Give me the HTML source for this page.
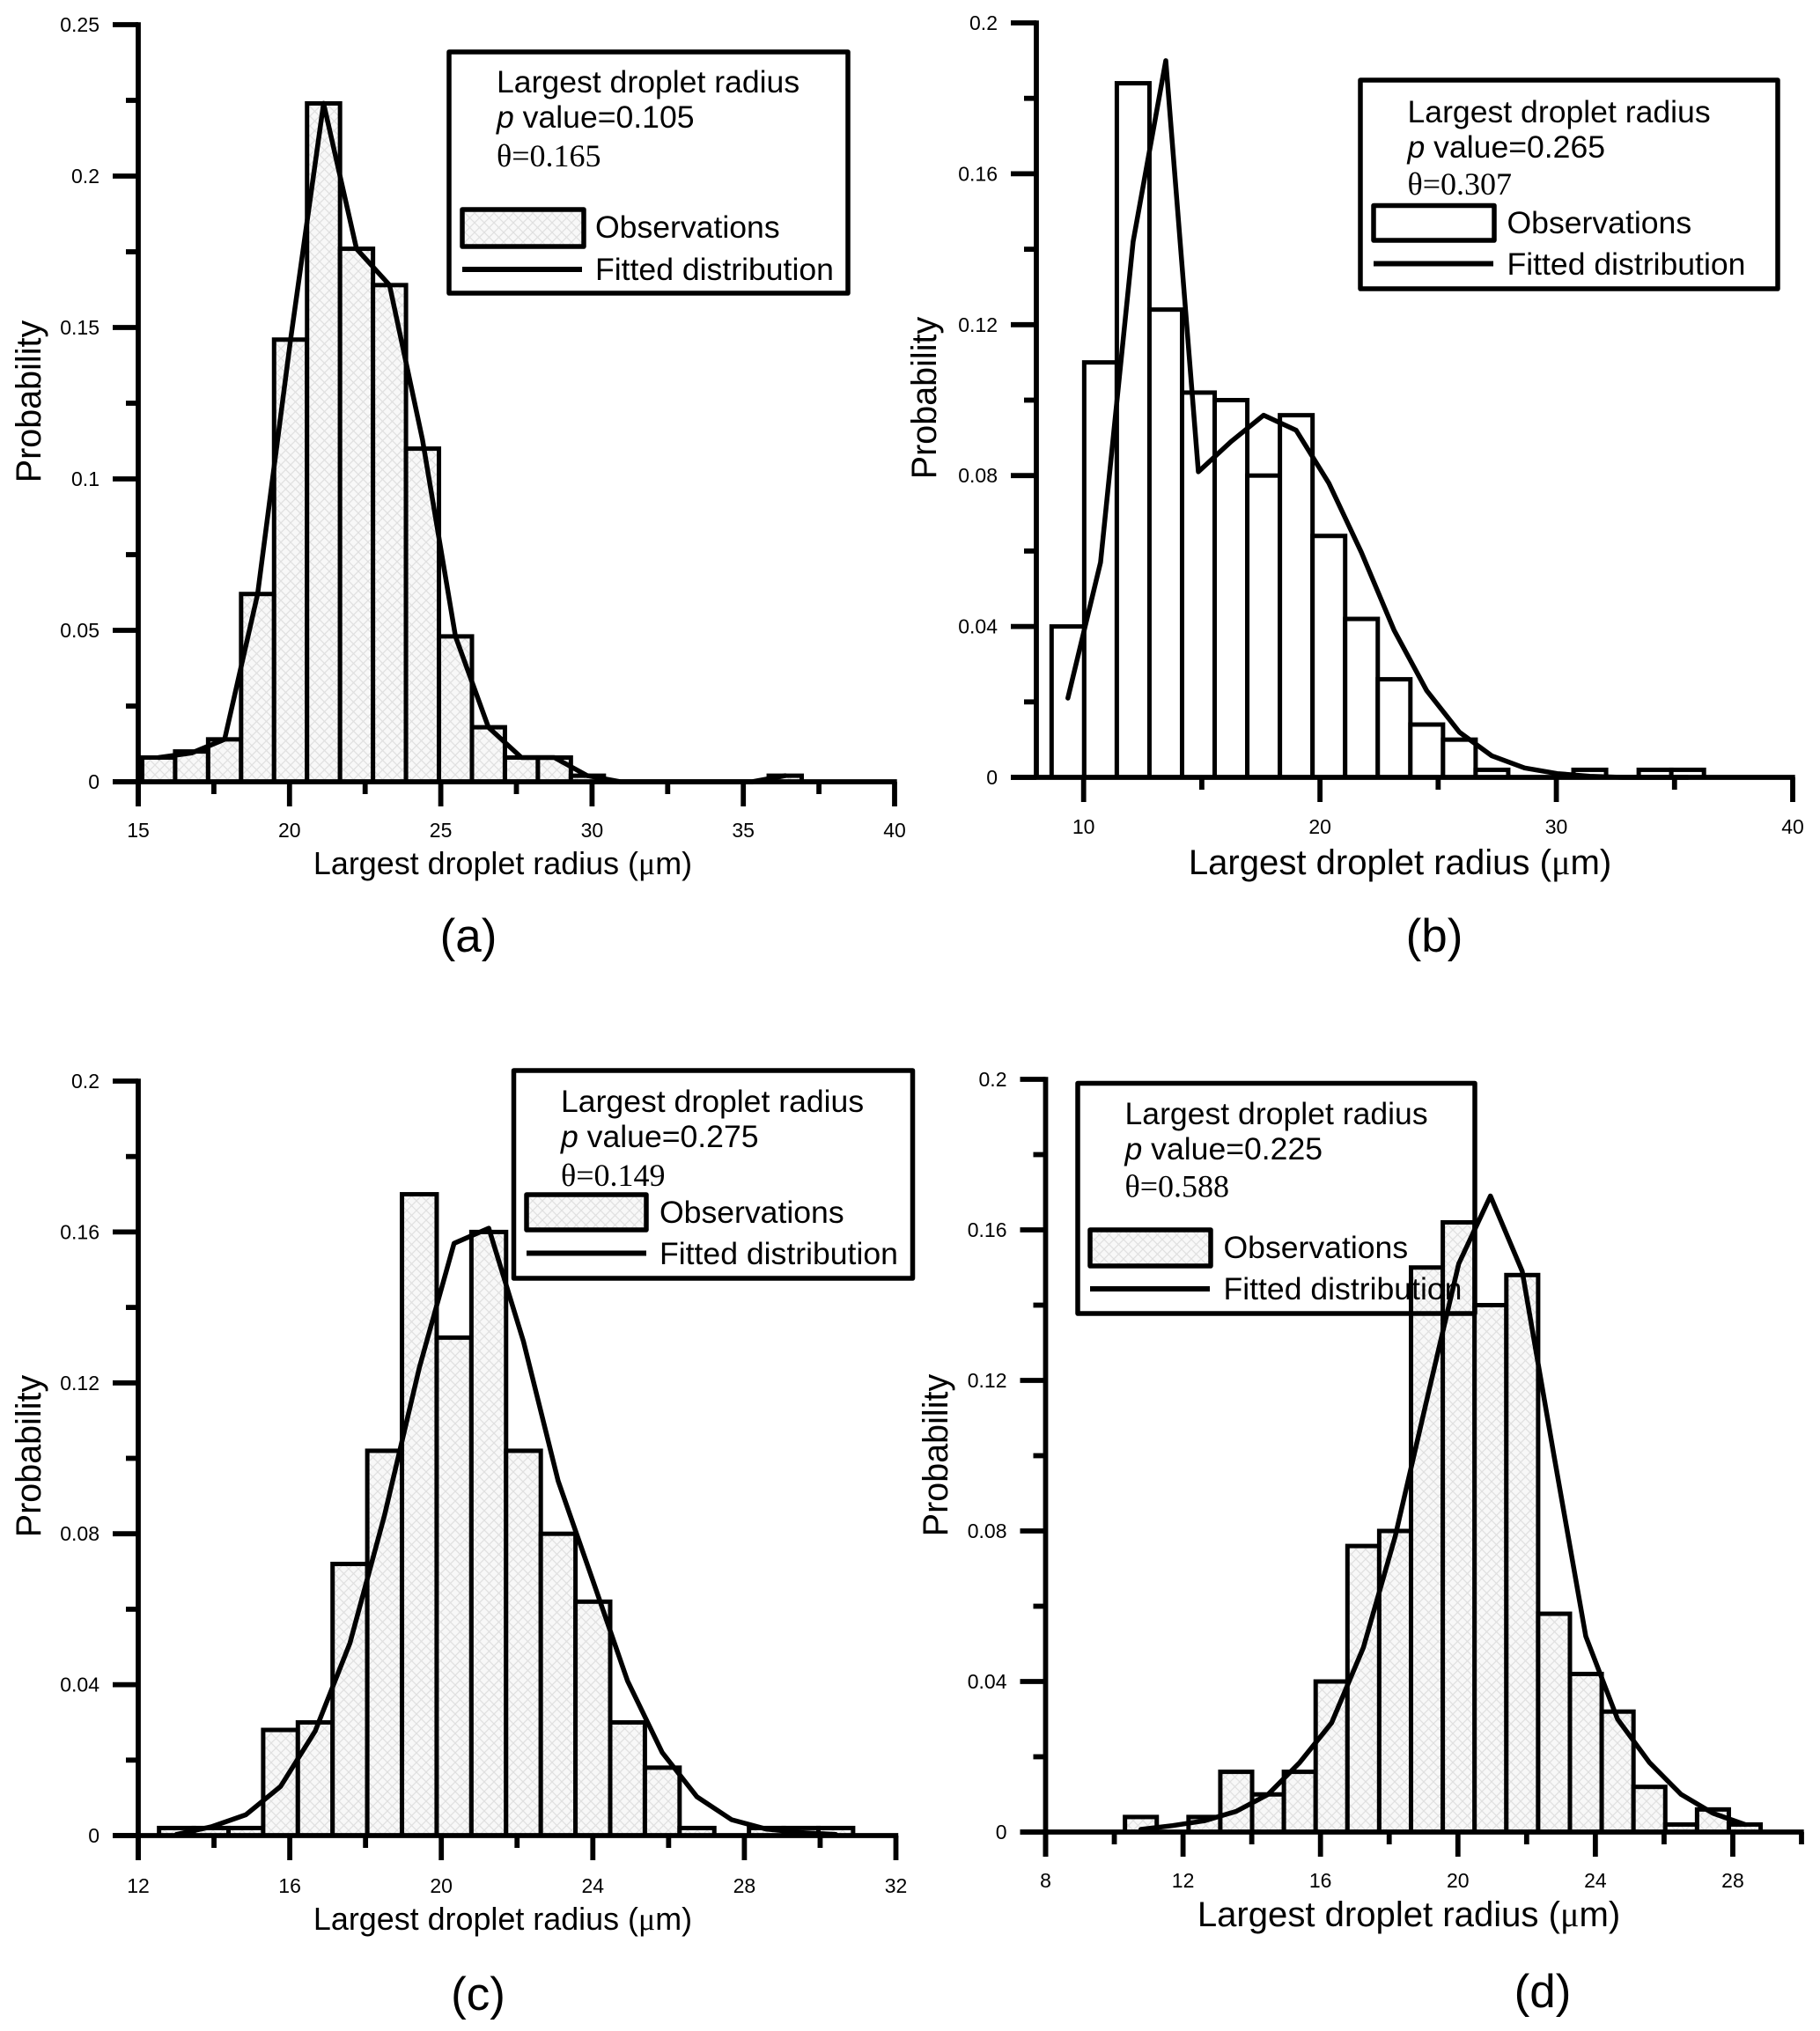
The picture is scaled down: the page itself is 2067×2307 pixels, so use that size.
<!DOCTYPE html>
<html lang="en">
<head>
<meta charset="utf-8">
<title>Largest droplet radius distributions</title>
<style>
html,body{margin:0;padding:0;background:#fff;width:2067px;height:2307px;overflow:hidden}
svg{display:block}
text{font-family:"Liberation Sans",sans-serif;fill:#000}
.tick{font-size:23px}
.title{font-size:35.9px}
.titleb{font-size:40.1px}
.ytitle{font-size:39.5px}
.panel{font-size:53px}
.leg{font-size:35.6px}
.ser{font-family:"Liberation Serif",serif;font-size:36px}
.mu{font-family:"Liberation Serif",serif}
.bx{fill:none;stroke:#000;stroke-width:5.5;stroke-linejoin:round}
.sw{stroke:#000;stroke-width:5.5;stroke-linejoin:round}
.ln{stroke:#000;stroke-width:6}
</style>
</head>
<body>
<svg xmlns="http://www.w3.org/2000/svg" width="2067" height="2307" viewBox="0 0 2067 2307">
<defs>
<pattern id="hatch" width="11" height="11" patternUnits="userSpaceOnUse">
<rect width="11" height="11" fill="#f8f8f8"/>
<path d="M0 0L11 11M11 0L0 11" stroke="#e0e0e0" stroke-width="1.2"/>
</pattern>
</defs>
<rect width="2067" height="2307" fill="#fff"/>

<g>
<g id="bars-a"></g>
<g>
<rect class="bx" x="510" y="59" width="453" height="274"/>
<text class="leg" x="564" y="105">Largest droplet radius</text>
<text class="leg" x="564" y="145"><tspan font-style="italic">p</tspan> value=0.105</text>
<text class="ser" x="564" y="189">θ=0.165</text>
<rect class="sw" x="525" y="238" width="138" height="42" fill="url(#hatch)"/>
<text class="leg" x="676" y="270">Observations</text>
<line class="ln" x1="525" y1="306" x2="661" y2="306"/>
<text class="leg" x="676" y="318">Fitted distribution</text>
</g>
<g id="fit-a"></g>
<g id="axes-a"></g>
<text class="ytitle" transform="translate(46,456) rotate(-90)" text-anchor="middle">Probability</text>
<text class="title" x="571" y="993" text-anchor="middle">Largest droplet radius (<tspan class="mu">μ</tspan>m)</text>
<text class="panel" x="532" y="1081" text-anchor="middle">(a)</text>
</g>

<g>
<g id="bars-b"></g>
<g>
<rect class="bx" x="1545" y="91" width="474" height="237"/>
<text class="leg" x="1598.5" y="139">Largest droplet radius</text>
<text class="leg" x="1598.5" y="179"><tspan font-style="italic">p</tspan> value=0.265</text>
<text class="ser" x="1598.5" y="221">θ=0.307</text>
<rect class="sw" x="1560" y="233.5" width="137" height="39.5" fill="#fff"/>
<text class="leg" x="1711.5" y="265">Observations</text>
<line class="ln" x1="1560" y1="299.5" x2="1696" y2="299.5"/>
<text class="leg" x="1711.5" y="312">Fitted distribution</text>
</g>
<g id="fit-b"></g>
<g id="axes-b"></g>
<text class="ytitle" transform="translate(1063,452) rotate(-90)" text-anchor="middle">Probability</text>
<text class="titleb" x="1590" y="993" text-anchor="middle">Largest droplet radius (<tspan class="mu">μ</tspan>m)</text>
<text class="panel" x="1629" y="1081" text-anchor="middle">(b)</text>
</g>

<g>
<g id="bars-c"></g>
<g>
<rect class="bx" x="583.5" y="1216" width="453" height="236"/>
<text class="leg" x="637" y="1263">Largest droplet radius</text>
<text class="leg" x="637" y="1303"><tspan font-style="italic">p</tspan> value=0.275</text>
<text class="ser" x="637" y="1347">θ=0.149</text>
<rect class="sw" x="598" y="1357" width="136" height="40" fill="url(#hatch)"/>
<text class="leg" x="749" y="1389">Observations</text>
<line class="ln" x1="598" y1="1423.5" x2="734" y2="1423.5"/>
<text class="leg" x="749" y="1436">Fitted distribution</text>
</g>
<g id="fit-c"></g>
<g id="axes-c"></g>
<text class="ytitle" transform="translate(46,1654) rotate(-90)" text-anchor="middle">Probability</text>
<text class="title" x="571" y="2192" text-anchor="middle">Largest droplet radius (<tspan class="mu">μ</tspan>m)</text>
<text class="panel" x="543" y="2283" text-anchor="middle">(c)</text>
</g>

<g>
<g id="bars-d"></g>
<g>
<rect class="bx" x="1224" y="1230.5" width="451" height="261.5"/>
<text class="leg" x="1277.5" y="1277">Largest droplet radius</text>
<text class="leg" x="1277.5" y="1317"><tspan font-style="italic">p</tspan> value=0.225</text>
<text class="ser" x="1277.5" y="1359.5">θ=0.588</text>
<rect class="sw" x="1238" y="1397" width="137" height="41" fill="url(#hatch)"/>
<text class="leg" x="1389.5" y="1429">Observations</text>
<line class="ln" x1="1238" y1="1464" x2="1374" y2="1464"/>
<text class="leg" x="1389.5" y="1476">Fitted distribution</text>
</g>
<g id="fit-d"></g>
<g id="axes-d"></g>
<text class="ytitle" transform="translate(1076,1653) rotate(-90)" text-anchor="middle">Probability</text>
<text class="titleb" x="1600" y="2188" text-anchor="middle">Largest droplet radius (<tspan class="mu">μ</tspan>m)</text>
<text class="panel" x="1752" y="2280" text-anchor="middle">(d)</text>
</g>
</svg>

<script>
// Panel (a)
const aObserved = [0.008,0.01,0.014,0.062,0.146,0.224,0.176,0.164,0.11,0.048,0.018,0.008,0.008,0.002,0,0,0,0,0,0.002];
const aFitted   = [0.008,0.0095,0.014,0.062,0.146,0.224,0.176,0.164,0.113,0.048,0.018,0.008,0.008,0.002,0,0,0,0,0,0.002];
const aXTicks = [15,20,25,30,35,40];
const aXTickLabels = ['15','20','25','30','35','40'];
const aXMinor = [17.5,22.5,27.5,32.5,37.5];
const aYTicks = [0,0.05,0.1,0.15,0.2,0.25];
const aYTickLabels = ['0','0.05','0.1','0.15','0.2','0.25'];
const aYMinor = [0.025,0.075,0.125,0.175,0.225];

// Panel (b)
const bObserved = [0.04,0.11,0.184,0.124,0.102,0.1,0.08,0.096,0.064,0.042,0.026,0.014,0.01,0.002,0,0,0.002,0,0.002,0.002];
const bFitted   = [0.021,0.057,0.142,0.19,0.081,0.089,0.096,0.092,0.078,0.0596,0.039,0.023,0.012,0.0057,0.0025,0.001,0.0003,0,0,0];
const bXTicks = [10,20,30,40];
const bXTickLabels = ['10','20','30','40'];
const bXMinor = [15,25,35];
const bYTicks = [0,0.04,0.08,0.12,0.16,0.2];
const bYTickLabels = ['0','0.04','0.08','0.12','0.16','0.2'];
const bYMinor = [0.02,0.06,0.1,0.14,0.18];

// Panel (c)
const cObserved = [0.002,0.002,0.002,0.028,0.03,0.072,0.102,0.17,0.132,0.16,0.102,0.08,0.062,0.03,0.018,0.002,0,0.002,0.002,0.002];
const cFitted   = [0.0003,0.0023,0.0055,0.013,0.0277,0.051,0.085,0.124,0.157,0.161,0.131,0.094,0.0676,0.041,0.022,0.0103,0.0042,0.0017,0.0008,0.0003];
const cXTicks = [12,16,20,24,28,32];
const cXTickLabels = ['12','16','20','24','28','32'];
const cXMinor = [14,18,22,26,30];
const cYTicks = [0,0.04,0.08,0.12,0.16,0.2];
const cYTickLabels = ['0','0.04','0.08','0.12','0.16','0.2'];
const cYMinor = [0.02,0.06,0.1,0.14,0.18];

// Panel (d)
const dObserved = [0.004,0,0.004,0.016,0.01,0.016,0.04,0.076,0.08,0.15,0.162,0.14,0.148,0.058,0.042,0.032,0.012,0.002,0.006,0.002];
const dFitted   = [0.0007,0.0017,0.003,0.0055,0.01,0.0185,0.029,0.049,0.0785,0.115,0.151,0.169,0.149,0.1,0.052,0.03,0.0185,0.01,0.005,0.002];
const dXTicks = [8,12,16,20,24,28];
const dXTickLabels = ['8','12','16','20','24','28'];
const dXMinor = [10,14,18,22,26,30];
const dYTicks = [0,0.04,0.08,0.12,0.16,0.2];
const dYTickLabels = ['0','0.04','0.08','0.12','0.16','0.2'];
const dYMinor = [0.02,0.06,0.1,0.14,0.18];

const NS = 'http://www.w3.org/2000/svg';

function drawLine(parent, x1, y1, x2, y2, name) {
  const el = document.createElementNS(NS, 'line');
  el.setAttribute('x1', x1);
  el.setAttribute('y1', y1);
  el.setAttribute('x2', x2);
  el.setAttribute('y2', y2);
  el.setAttribute('stroke', '#000');
  el.setAttribute('stroke-width', '5.8');
  
  
  parent.appendChild(el);
}

function drawLabel(parent, x, y, anchor, str, name) {
  const el = document.createElementNS(NS, 'text');
  el.setAttribute('x', x);
  el.setAttribute('y', y);
  el.setAttribute('text-anchor', anchor);
  el.setAttribute('class', 'tick');
  
  
  el.textContent = str;
  parent.appendChild(el);
}

function drawPanel(id, frame, observed, fitted, xTicks, xLabels, xMinor, yTicks, yLabels, yMinor) {
  const sx = v => frame.left + (v - frame.xMin) * (frame.right - frame.left) / (frame.xMax - frame.xMin);
  const sy = v => frame.zero + v * (frame.top - frame.zero) / frame.yMax;
  const barsG = document.getElementById('bars-' + id);
  const fitG = document.getElementById('fit-' + id);
  const axesG = document.getElementById('axes-' + id);

  observed.forEach(function (v, i) {
    const x0 = sx(frame.binStart + i * frame.binWidth);
    const x1 = sx(frame.binStart + (i + 1) * frame.binWidth);
    const rect = document.createElementNS(NS, 'rect');
    rect.setAttribute('x', x0);
    rect.setAttribute('y', sy(v));
    rect.setAttribute('width', x1 - x0);
    rect.setAttribute('height', sy(0) - sy(v));
    rect.setAttribute('fill', frame.fill);
    rect.setAttribute('stroke', '#000');
    rect.setAttribute('stroke-width', '5');
    
    
    barsG.appendChild(rect);
  });

  const pts = fitted.map(function (v, i) {
    return sx(frame.binStart + (i + 0.5) * frame.binWidth).toFixed(1) + ',' + sy(v).toFixed(1);
  }).join(' ');
  const curve = document.createElementNS(NS, 'polyline');
  curve.setAttribute('points', pts);
  curve.setAttribute('fill', 'none');
  curve.setAttribute('stroke', '#000');
  curve.setAttribute('stroke-width', '5.5');
  curve.setAttribute('stroke-linejoin', 'round');
  curve.setAttribute('stroke-linecap', 'round');
  
  
  fitG.appendChild(curve);

  const zero = sy(0);
  drawLine(axesG, frame.left, sy(frame.yMax) - 2.7, frame.left, frame.axisBottom ? zero + 28 : zero, 'y-axis-line-' + id);
  drawLine(axesG, frame.left - 29, zero, frame.right + 2.7, zero, 'x-axis-line-' + id);

  xTicks.forEach(function (v, i) {
    drawLine(axesG, sx(v), zero, sx(v), zero + 28, 'x-tick-' + id + '-' + i);
    drawLabel(axesG, sx(v), frame.xLabelY, 'middle', xLabels[i], 'x-tick-label-' + id + '-' + i);
  });
  xMinor.forEach(function (v, i) {
    drawLine(axesG, sx(v), zero, sx(v), zero + 14, 'x-minor-tick-' + id + '-' + i);
  });
  yTicks.forEach(function (v, i) {
    drawLine(axesG, frame.left - 29, sy(v), frame.left, sy(v), 'y-tick-' + id + '-' + i);
    drawLabel(axesG, frame.left - 44, sy(v) + 8, 'end', yLabels[i], 'y-tick-label-' + id + '-' + i);
  });
  yMinor.forEach(function (v, i) {
    drawLine(axesG, frame.left - 14, sy(v), frame.left, sy(v), 'y-minor-tick-' + id + '-' + i);
  });
}

drawPanel('a',
  {left:157,right:1016,xMin:15,xMax:40,top:28,zero:888,yMax:0.25,binStart:15.13,binWidth:1.09,fill:'url(#hatch)',xLabelY:951,axisBottom:true},
  aObserved,aFitted,aXTicks,aXTickLabels,aXMinor,aYTicks,aYTickLabels,aYMinor);
drawPanel('b',
  {left:1177,right:2036,xMin:8,xMax:40,top:26,zero:883,yMax:0.2,binStart:8.645,binWidth:1.38,fill:'#fff',xLabelY:947,axisBottom:false},
  bObserved,bFitted,bXTicks,bXTickLabels,bXMinor,bYTicks,bYTickLabels,bYMinor);
drawPanel('c',
  {left:157,right:1017.5,xMin:12,xMax:32,top:1228,zero:2085,yMax:0.2,binStart:12.55,binWidth:0.916,fill:'url(#hatch)',xLabelY:2150,axisBottom:true},
  cObserved,cFitted,cXTicks,cXTickLabels,cXMinor,cYTicks,cYTickLabels,cYMinor);
drawPanel('d',
  {left:1187.5,right:2046,xMin:8,xMax:30,top:1226,zero:2081,yMax:0.2,binStart:10.31,binWidth:0.925,fill:'url(#hatch)',xLabelY:2144,axisBottom:true},
  dObserved,dFitted,dXTicks,dXTickLabels,dXMinor,dYTicks,dYTickLabels,dYMinor);
</script>
</body>
</html>
